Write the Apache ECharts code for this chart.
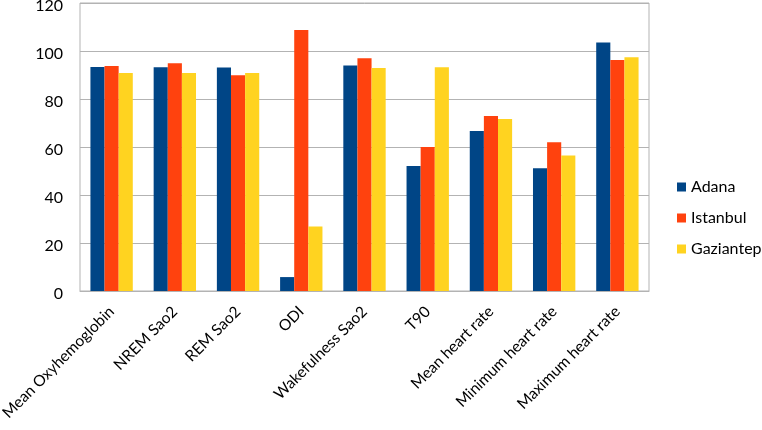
<!DOCTYPE html>
<html>
<head>
<meta charset="utf-8">
<script src="https://cdn.jsdelivr.net/npm/echarts@6/dist/echarts.min.js"></script>
<style>
  html, body { margin: 0; padding: 0; background: #fff; }
  #chart { width: 762px; height: 430px; }
</style>
</head>
<body>
<div id="chart"></div>
<script>
// categories and values
var categories = ['Mean Oxyhemoglobin', 'NREM Sao2', 'REM Sao2', 'ODI', 'Wakefulness Sao2',
  'T90', 'Mean heart rate', 'Minimum heart rate', 'Maximum heart rate'];
var adana = [93.3, 93.2, 93.1, 5.8, 94.0, 52.1, 66.7, 51.1, 103.5];
var istanbul = [93.8, 94.9, 89.9, 108.8, 97.0, 60.0, 72.9, 62.0, 96.3];
var gaziantep = [90.8, 90.8, 90.8, 26.9, 92.9, 93.2, 71.7, 56.5, 97.4];

var myChart = echarts.init(document.getElementById('chart'));

var font = 'Lato, "Open Sans", sans-serif';

var option = {
  animation: false,
  textStyle: { fontFamily: font },
  color: ['#004586', '#ff420e', '#ffd320'],
  grid: {
    left: 80, right: 113, top: 3, bottom: 139,
    outerBoundsMode: 'none',
    containLabel: false,
    show: true, borderColor: '#b3b3b3', borderWidth: 1
  },
  legend: {
    orient: 'vertical',
    left: 672, top: 174,
    itemWidth: 9, itemHeight: 9, itemGap: 15,
    icon: 'rect',
    textStyle: { fontSize: 16, color: '#000', fontFamily: font },
    data: ['Adana', 'Istanbul', 'Gaziantep']
  },
  xAxis: {
    type: 'category',
    data: categories,
    axisLine: { show: true, lineStyle: { color: '#b3b3b3' } },
    axisTick: { show: false },
    axisLabel: {
      interval: 0, rotate: 45, margin: 18,
      fontSize: 15.5, color: '#000', fontFamily: font
    }
  },
  yAxis: {
    type: 'value',
    min: 0, max: 120, interval: 20,
    axisLine: { show: false },
    axisTick: { show: false },
    axisLabel: {
      margin: 17,
      formatter: '{v|{value}}',
      rich: { v: { fontSize: 16, color: '#000', fontFamily: font, lineHeight: 18, padding: [5, 0, 0, 0] } }
    },
    splitLine: { lineStyle: { color: '#b3b3b3', width: 1 } }
  },
  series: [
    { name: 'Adana', type: 'bar', data: adana, barGap: '0%', barCategoryGap: '33%' },
    { name: 'Istanbul', type: 'bar', data: istanbul, barGap: '0%', barCategoryGap: '33%' },
    { name: 'Gaziantep', type: 'bar', data: gaziantep, barGap: '0%', barCategoryGap: '33%' }
  ]
};

myChart.setOption(option);
</script>
</body>
</html>
